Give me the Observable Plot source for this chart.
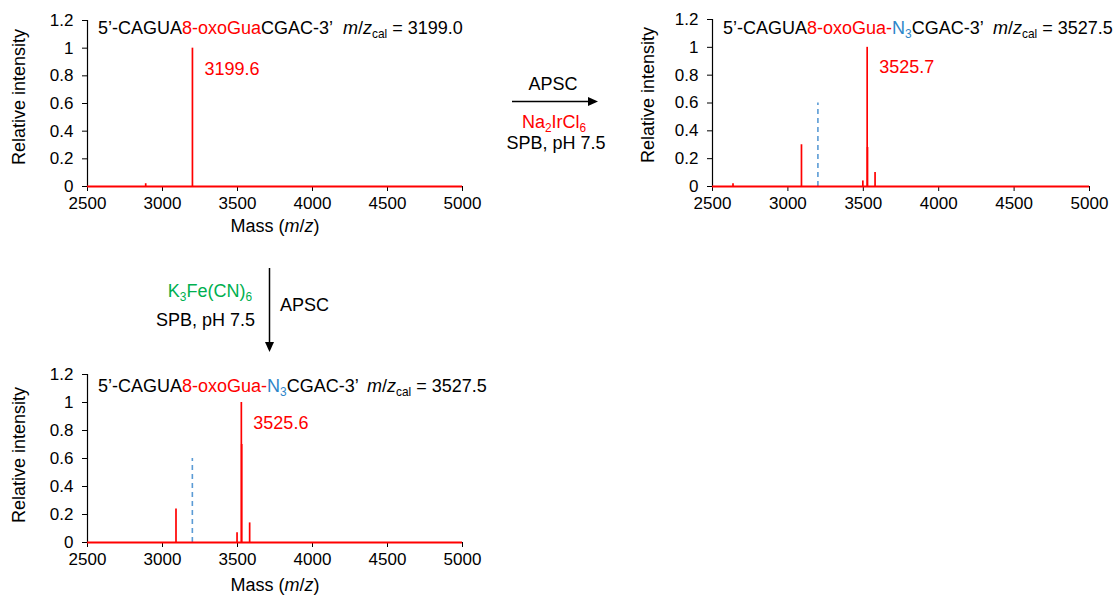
<!DOCTYPE html>
<html>
<head>
<meta charset="utf-8">
<script src="https://cdn.jsdelivr.net/npm/d3@7"></script>
<script src="https://cdn.jsdelivr.net/npm/@observablehq/plot@0.6"></script>
<style>
  body { margin: 0; background: #fff; }
  #wrap { position: relative; width: 1113px; height: 599px; font-family: "Liberation Sans", Arial, sans-serif; color: #000; overflow: hidden; }
  .abs { position: absolute; white-space: pre; font-size: 18px; line-height: 18px; }
  .red { color: #ff0000; }
  .blue { color: #2e86c9; }
  .green { color: #00b050; }
  sub { font-size: 0.66em; line-height: 0; vertical-align: -0.3em; }
  .ylab { position: absolute; font-size: 18px; line-height: 18px; white-space: pre; transform: translate(-50%, -50%) rotate(-90deg); }
  .ctr { transform: translate(-50%, 0); }
  .rgt { transform: translate(-100%, 0); }
  .plot { position: absolute; }
</style>
</head>
<body>
<div id="wrap"></div>
<script>
// ---- data ----
const xTicks = [2500, 3000, 3500, 4000, 4500, 5000];
const yTicks = [0, 0.2, 0.4, 0.6, 0.8, 1, 1.2];

// panel A: starting oligo
const massA = [2888, 3199.6];
const intA  = [0.02, 1.0];
// panel B: Na2IrCl6 product
const massB = [2636, 3090, 3497, 3525.7, 3528, 3578];
const intB  = [0.02, 0.30, 0.04, 1.0, 0.28, 0.10];
// panel C: K3Fe(CN)6 product
const massC = [3090, 3497, 3525.6, 3528, 3581];
const intC  = [0.24, 0.07, 1.0, 0.70, 0.14];

const calcStart = 3199.0;   // dashed reference (starting material m/z)
const dashHeight = 0.6;

const peakLabelA = {mass: 3199.6, y: 0.85, text: "3199.6"};
const peakLabelB = {mass: 3525.7, y: 0.855, text: "3525.7"};
const peakLabelC = {mass: 3525.6, y: 0.85, text: "3525.6"};

function toRows(m, v) { return m.map((x, i) => ({mass: x, intensity: v[i]})); }

function panel(opts) {
  const {rows, label, dashed, width, height, ml, mr, mt, mb} = opts;
  const marks = [
    Plot.axisX({ticks: xTicks, tickFormat: d => String(d), tickSize: 5, tickPadding: 5, label: null, fontSize: 17}),
    Plot.axisY({ticks: yTicks, tickFormat: d => String(+d.toFixed(1)), tickSize: 5, tickPadding: 9, label: null, fontSize: 17}),
    Plot.ruleX([2500], {stroke: "black", strokeWidth: 1.2}),
    Plot.ruleY([0], {stroke: "black", strokeWidth: 1.2})
  ];
  if (dashed) marks.push(Plot.ruleX([calcStart], {y1: 0, y2: dashHeight, stroke: "#5b9bd5", strokeWidth: 1.6, strokeDasharray: "5,4"}));
  marks.push(
    Plot.ruleX(rows, {x: "mass", y1: 0, y2: "intensity", stroke: "#ff0000", strokeWidth: 1.7}),
    Plot.ruleY([0], {stroke: "#ff0000", strokeWidth: 2}),
    Plot.text([label], {x: "mass", y: "y", text: "text", dx: 12, textAnchor: "start", fill: "#ff0000", fontSize: 18})
  );
  return Plot.plot({
    width, height,
    marginLeft: ml, marginRight: mr, marginTop: mt, marginBottom: mb,
    style: {fontFamily: "'Liberation Sans', Arial, sans-serif", fontSize: "17px", color: "black", background: "transparent", overflow: "visible"},
    x: {domain: [2500, 5000]},
    y: {domain: [0, 1.2]},
    marks
  });
}

const wrap = document.getElementById("wrap");
function place(el, left, top) {
  el.classList.add("plot");
  el.style.left = left + "px";
  el.style.top = top + "px";
  wrap.appendChild(el);
}

place(panel({rows: toRows(massA, intA), label: peakLabelA, dashed: false, width: 480, height: 240, ml: 87, mr: 18, mt: 20, mb: 54}), 0, 0);
place(panel({rows: toRows(massB, intB), label: peakLabelB, dashed: true, width: 480, height: 240, ml: 82, mr: 21, mt: 19, mb: 54}), 630, 0);
place(panel({rows: toRows(massC, intC), label: peakLabelC, dashed: true, width: 480, height: 244, ml: 87, mr: 18, mt: 19, mb: 57}), 0, 355);

function addHTML(html) { wrap.insertAdjacentHTML("beforeend", html); }

// titles
addHTML(`<div class="abs" style="left:98px;top:19px">5’-CAGUA<span class="red">8-oxoGua</span>CGAC-3’</div>`);
addHTML(`<div class="abs" style="left:343px;top:19px"><i>m</i>/<i>z</i><sub>cal</sub> = 3199.0</div>`);
addHTML(`<div class="abs" style="left:723px;top:19px">5’-CAGUA<span class="red">8-oxoGua-</span><span class="blue">N<sub>3</sub></span>CGAC-3’</div>`);
addHTML(`<div class="abs" style="left:993px;top:19px"><i>m</i>/<i>z</i><sub>cal</sub> = 3527.5</div>`);
addHTML(`<div class="abs" style="left:98px;top:377px">5’-CAGUA<span class="red">8-oxoGua-</span><span class="blue">N<sub>3</sub></span>CGAC-3’</div>`);
addHTML(`<div class="abs" style="left:367px;top:377px"><i>m</i>/<i>z</i><sub>cal</sub> = 3527.5</div>`);

// axis labels
addHTML(`<div class="ylab" style="left:19px;top:97px">Relative intensity</div>`);
addHTML(`<div class="ylab" style="left:648px;top:95px">Relative intensity</div>`);
addHTML(`<div class="ylab" style="left:19px;top:455px">Relative intensity</div>`);
addHTML(`<div class="abs ctr" style="left:275px;top:217px">Mass (<i>m</i>/<i>z</i>)</div>`);
addHTML(`<div class="abs ctr" style="left:275px;top:576px">Mass (<i>m</i>/<i>z</i>)</div>`);

// reaction arrows
addHTML(`<svg style="position:absolute;left:0;top:0" width="1113" height="599">
  <line x1="512" y1="101.5" x2="590" y2="101.5" stroke="black" stroke-width="1.5"/>
  <polygon points="598,101.5 588,97 588,106" fill="black"/>
  <line x1="269.5" y1="268" x2="269.5" y2="343" stroke="black" stroke-width="1.5"/>
  <polygon points="269.5,352 265,342 274,342" fill="black"/>
</svg>`);
addHTML(`<div class="abs ctr" style="left:553px;top:75px">APSC</div>`);
addHTML(`<div class="abs ctr red" style="left:554px;top:113px">Na<sub>2</sub>IrCl<sub>6</sub></div>`);
addHTML(`<div class="abs ctr" style="left:556px;top:134px">SPB, pH 7.5</div>`);
addHTML(`<div class="abs rgt green" style="left:252px;top:282px">K<sub>3</sub>Fe(CN)<sub>6</sub></div>`);
addHTML(`<div class="abs rgt" style="left:255px;top:311px">SPB, pH 7.5</div>`);
addHTML(`<div class="abs" style="left:280px;top:296px">APSC</div>`);
</script>
</body>
</html>
